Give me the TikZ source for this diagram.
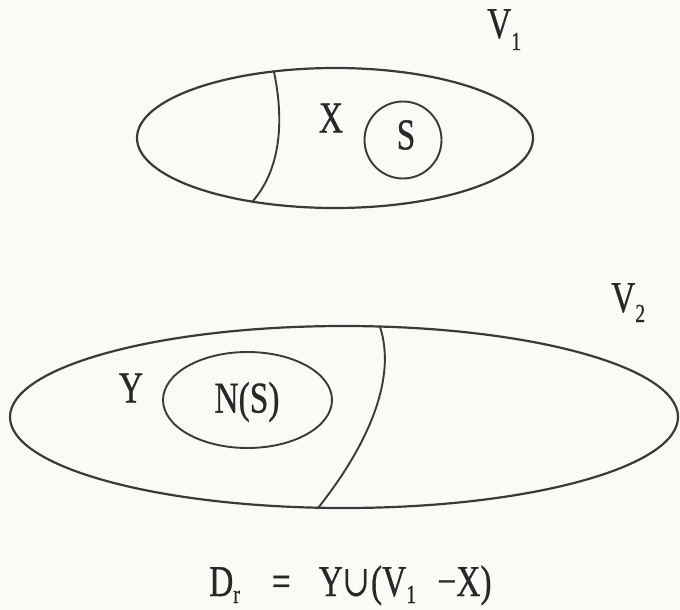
\documentclass[tikz,border=0pt]{standalone}
\usepackage{graphicx}
\usepackage{fontspec}
\setmainfont{Liberation Serif}[FakeBold=0.8]
\newfontfamily\symfont{DejaVu Serif}
\definecolor{ink}{HTML}{3A3A3A}
\definecolor{txt}{HTML}{282828}
\definecolor{paper}{HTML}{FAFAF7}
\newcommand{\nar}[1]{\scalebox{0.76}[1]{#1}}
\newcommand{\subx}[2][12pt]{\raisebox{-#1}{\fontsize{26}{26}\selectfont #2}}
\tikzset{
  setline/.style={draw=ink, line width=2.2pt},
  innerline/.style={draw=ink, line width=1.9pt},
  divline/.style={draw=ink, line width=1.9pt},
  lab/.style={text=txt, inner sep=0pt, font=\fontsize{44}{50}\selectfont},
}
\begin{document}
\begin{tikzpicture}[x=1pt,y=-1pt]
\fill[paper] (0,0) rectangle (680,610);
\useasboundingbox (0,0) rectangle (680,610);
% top set V1
\draw[setline] (335,138) ellipse [x radius=198, y radius=70];
\coordinate (xtop) at (274,72);
\coordinate (xbot) at (252,202);
\draw[divline] (xtop) .. controls (282,110) and (285,165) .. (xbot);
\node[lab] (X) at (331,118) {\nar{X}};
\draw[innerline] (403,140) circle [radius=38.5];
\node[lab] (S) at (406,135) {\nar{S}};
\node[lab, anchor=base west] (V1) at (487,38) {\nar{V\subx{1}}};
% bottom set V2
\draw[setline] (344,417) ellipse [x radius=334, y radius=91];
\coordinate (ytop) at (380,327);
\coordinate (ybot) at (318,508);
\draw[divline] (ytop) .. controls (396,375) and (372,440) .. (ybot);
\node[lab] (Y) at (131,388) {\nar{Y}};
\draw[innerline] (247.5,400) ellipse [x radius=84.5, y radius=48];
\node[lab] (NS) at (247,402) {\nar{N(S)}};
\node[lab, anchor=base west] (V2) at (611,312) {\nar{V\subx[10pt]{2}}};
% equation
\node[lab, anchor=base west] (eq) at (209,596) {\nar{D\subx[7pt]{r}\hspace{42pt}=\hspace{37pt}Y{\symfont ∪}(V\subx[7pt]{1}\hspace{28pt}−X)}};
\end{tikzpicture}
\end{document}
